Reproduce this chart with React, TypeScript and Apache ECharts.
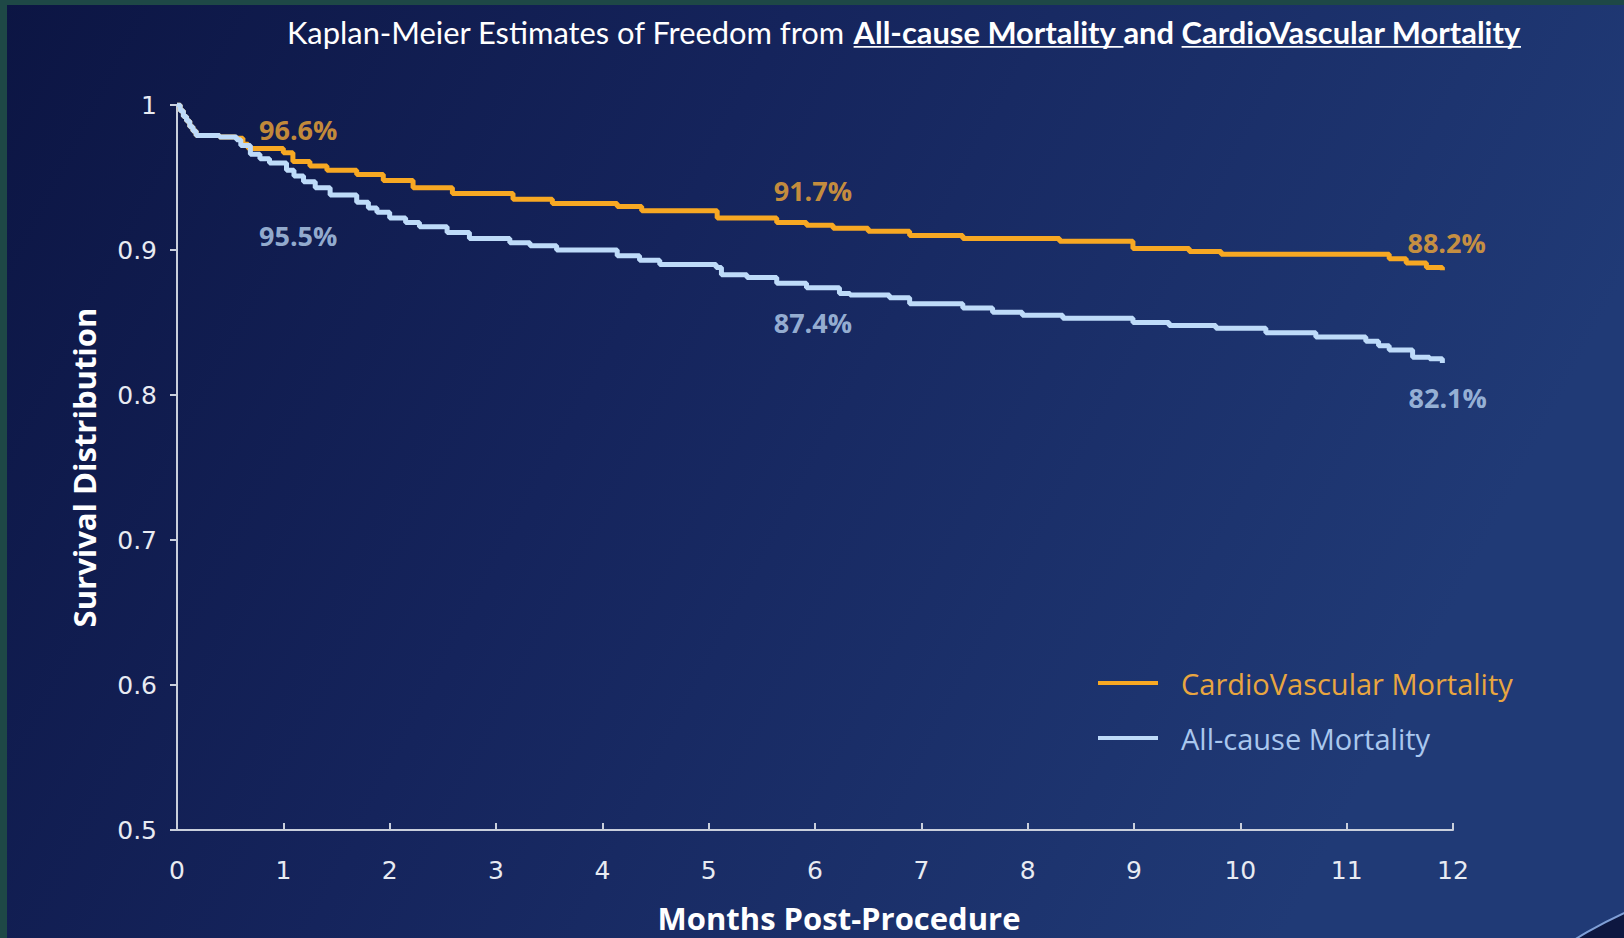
import React, { useEffect, useRef } from "react";
import * as echarts from "echarts";

// ---------- data ----------
const monthTicks = [0, 1, 2, 3, 4, 5, 6, 7, 8, 9, 10, 11, 12];

const cvMonths = [0, 0.03, 0.06, 0.09, 0.12, 0.15, 0.18, 0.4, 0.55, 0.62, 0.67, 1.0, 1.09, 1.25, 1.41, 1.69, 1.94, 2.22, 2.59, 3.16, 3.53, 4.14, 4.37, 5.08, 5.64, 5.92, 6.17, 6.5, 6.89, 7.39, 8.3, 8.99, 9.52, 9.82, 11.4, 11.56, 11.75, 11.9];
const cvSurvival = [1.0, 0.996, 0.992, 0.989, 0.985, 0.982, 0.979, 0.978, 0.977, 0.973, 0.97, 0.967, 0.961, 0.958, 0.955, 0.952, 0.948, 0.943, 0.939, 0.935, 0.932, 0.93, 0.927, 0.922, 0.919, 0.917, 0.915, 0.913, 0.91, 0.908, 0.906, 0.901, 0.899, 0.897, 0.894, 0.891, 0.888, 0.886];

const allMonths = [0, 0.03, 0.06, 0.09, 0.12, 0.15, 0.18, 0.4, 0.56, 0.6, 0.69, 0.78, 0.87, 1.03, 1.1, 1.19, 1.3, 1.44, 1.69, 1.8, 1.88, 2.0, 2.15, 2.28, 2.54, 2.75, 3.13, 3.32, 3.57, 4.14, 4.35, 4.54, 5.07, 5.12, 5.36, 5.64, 5.92, 6.23, 6.33, 6.7, 6.89, 7.39, 7.67, 7.95, 8.33, 8.99, 9.33, 9.77, 10.24, 10.71, 11.18, 11.3, 11.4, 11.62, 11.78, 11.9];
const allSurvival = [1.0, 0.996, 0.992, 0.989, 0.985, 0.982, 0.979, 0.978, 0.976, 0.972, 0.966, 0.963, 0.96, 0.955, 0.951, 0.947, 0.943, 0.938, 0.933, 0.929, 0.926, 0.922, 0.919, 0.916, 0.912, 0.908, 0.905, 0.903, 0.9, 0.896, 0.893, 0.89, 0.888, 0.883, 0.881, 0.877, 0.874, 0.87, 0.869, 0.867, 0.863, 0.86, 0.857, 0.855, 0.853, 0.85, 0.848, 0.846, 0.843, 0.84, 0.837, 0.834, 0.831, 0.826, 0.825, 0.822];

const cvLabelTexts = ["96.6%", "91.7%", "88.2%"];
const cvLabelMonths = [1.14, 5.98, 11.94];
const cvLabelValues = [0.983, 0.941, 0.905];
const allLabelTexts = ["95.5%", "87.4%", "82.1%"];
const allLabelMonths = [1.14, 5.98, 11.95];
const allLabelValues = [0.91, 0.85, 0.798];

const seriesNames = ["CardioVascular Mortality", "All-cause Mortality"];

const titleParts = [
  { text: "Kaplan-Meier Estimates of Freedom from ", bold: false, underline: false },
  { text: "All-cause Mortality ", bold: true, underline: true },
  { text: "and ", bold: true, underline: false },
  { text: "CardioVascular Mortality", bold: true, underline: true },
];

// ---------- styles ----------
const ORANGE = "#F7A823";
const ORANGE_TEXT = "#F4A935";
const BLUE = "#BEDBF9";
const BLUE_TEXT = "#B7D2F0";
const TITLE_FONT = "Lato";
const LABEL_FONT = "'Open Sans'";
const TICK_FONT = "'DejaVu Sans', sans-serif";

function buildTitle(): any[] {
  const canvas = document.createElement("canvas");
  const ctx = canvas.getContext("2d")!;
  const widths100 = titleParts.map((p) => {
    ctx.font = `${p.bold ? "bold" : "normal"} 100px ${TITLE_FONT}`;
    return ctx.measureText(p.text).width;
  });
  const total100 = widths100.reduce((a, b) => a + b, 0);
  const left = 287;
  const targetWidth = 1234;
  const size = (100 * targetWidth) / total100;
  const cy = 32;
  const els: any[] = [];
  let x = left;
  titleParts.forEach((p, i) => {
    const w = (widths100[i] * size) / 100;
    els.push({
      type: "text",
      x,
      y: cy,
      style: {
        text: p.text,
        fill: "#ffffff",
        fontFamily: TITLE_FONT,
        fontWeight: p.bold ? "bold" : "normal",
        fontSize: size,
        verticalAlign: "middle",
        align: "left",
      },
    });
    if (p.underline) {
      els.push({
        type: "line",
        shape: { x1: x, y1: cy + size * 0.48, x2: x + w, y2: cy + size * 0.48 },
        style: { stroke: "#ffffff", lineWidth: 1.6 },
      });
    }
    x += w;
  });
  return els;
}

export default function App() {
  const ref = useRef<HTMLDivElement>(null);

  useEffect(() => {
    if (!ref.current) return;
    const chart = echarts.init(ref.current, undefined, { renderer: "svg" });

    const cvData = cvMonths.map((m, i) => [m, cvSurvival[i]]);
    const allData = allMonths.map((m, i) => [m, allSurvival[i]]);
    const labelData = [
      ...cvLabelTexts.map((t, i) => ({ name: t, value: [cvLabelMonths[i], cvLabelValues[i]], label: { color: ORANGE_TEXT } })),
      ...allLabelTexts.map((t, i) => ({ name: t, value: [allLabelMonths[i], allLabelValues[i]], label: { color: BLUE_TEXT } })),
    ];

    const option: any = {
      animation: false,
      backgroundColor: {
        type: "linear",
        x: 0,
        y: 0,
        x2: 1,
        y2: 0.3,
        colorStops: [
          { offset: 0, color: "#0c1543" },
          { offset: 0.45, color: "#15245c" },
          { offset: 1, color: "#203a76" },
        ],
      },
      grid: { left: 177, right: 171, top: 105, bottom: 108, containLabel: false },
      legend: {
        orient: "vertical",
        left: 1093,
        top: 663,
        icon: "rect",
        itemWidth: 60,
        itemHeight: 4,
        itemGap: 25,
        selectedMode: false,
        data: [
          { name: seriesNames[0], textStyle: { color: "#E9A640" } },
          { name: seriesNames[1], textStyle: { color: "#A9C7EE" } },
        ],
        textStyle: { fontFamily: LABEL_FONT, fontSize: 29, lineHeight: 30, padding: [0, 0, 0, 18] },
      },
      xAxis: {
        type: "value",
        min: 0,
        max: 12,
        interval: 1,
        name: "Months Post-Procedure",
        nameLocation: "middle",
        nameGap: 72,
        nameTextStyle: { color: "#ffffff", fontFamily: LABEL_FONT, fontWeight: "bold", fontSize: 31, padding: [0, 0, 0, 48] },
        axisLine: { show: true, lineStyle: { color: "#c9cfdc", width: 2 } },
        axisTick: { show: true, inside: true, length: 7, lineStyle: { color: "#c9cfdc", width: 2 } },
        axisLabel: {
          color: "#e8ebf2",
          fontFamily: TICK_FONT,
          fontSize: 25,
          margin: 28,
          formatter: (v: number) => (monthTicks.includes(Math.round(v)) ? String(Math.round(v)) : ""),
        },
        splitLine: { show: false },
      },
      yAxis: {
        type: "value",
        min: 0.5,
        max: 1,
        interval: 0.1,
        name: "Survival Distribution",
        nameLocation: "middle",
        nameGap: 78,
        nameTextStyle: { color: "#ffffff", fontFamily: LABEL_FONT, fontWeight: "bold", fontSize: 31 },
        axisLine: { show: true, lineStyle: { color: "#c9cfdc", width: 2 } },
        axisTick: { show: true, inside: false, length: 7, lineStyle: { color: "#c9cfdc", width: 2 } },
        axisLabel: {
          color: "#e8ebf2",
          fontFamily: TICK_FONT,
          fontSize: 25,
          margin: 20,
          formatter: (v: number) => (Math.abs(v - 1) < 1e-9 ? "1" : Number(v).toFixed(1)),
        },
        splitLine: { show: false },
      },
      series: [
        {
          name: seriesNames[0],
          type: "line",
          step: "end",
          symbol: "none",
          data: cvData,
          lineStyle: { color: ORANGE, width: 5 },
          itemStyle: { color: ORANGE },
          z: 2,
        },
        {
          name: seriesNames[1],
          type: "line",
          step: "end",
          symbol: "none",
          data: allData,
          lineStyle: { color: BLUE, width: 5 },
          itemStyle: { color: BLUE },
          z: 3,
        },
        {
          name: "labels",
          type: "scatter",
          symbolSize: 0,
          silent: true,
          data: labelData,
          label: {
            show: true,
            position: "inside",
            fontFamily: LABEL_FONT,
            fontWeight: "bold",
            fontSize: 27,
            formatter: (p: any) => p.name,
          },
          z: 5,
        },
      ],
      graphic: [
        { type: "rect", left: 0, top: 0, shape: { width: 7, height: 938 }, style: { fill: "#1e4846" }, z: 10 },
        { type: "rect", left: 0, top: 0, shape: { width: 1624, height: 5 }, style: { fill: "#1e4846" }, z: 10 },
        {
          type: "circle",
          shape: { cx: 1800, cy: 1300, r: 425 },
          style: { fill: "#0d1740", stroke: "#7f9fd6", lineWidth: 2 },
          z: 1,
        },
        ...buildTitle(),
      ],
    };

    chart.setOption(option);
    return () => chart.dispose();
  }, []);

  return (
    <div
      ref={ref}
      style={{ position: "fixed", left: 0, top: 0, width: 1624, height: 938 }}
    />
  );
}
